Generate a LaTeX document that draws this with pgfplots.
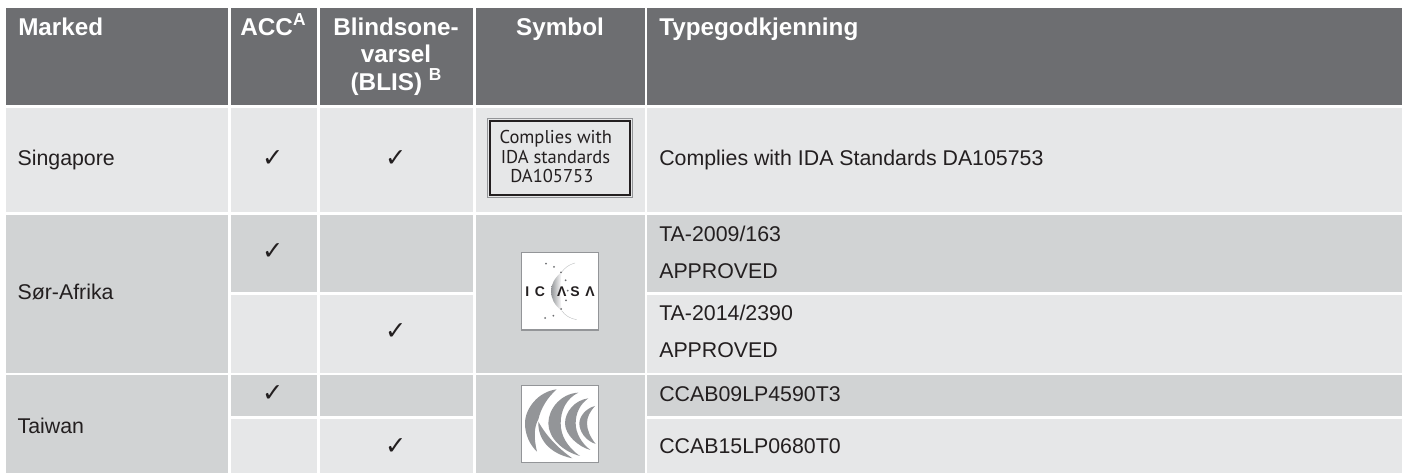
\documentclass[border=0pt]{standalone}
\usepackage{pgfplots}
\pgfplotsset{compat=1.18}
\usepackage{fontspec}
\setmainfont{Liberation Sans}
\newfontfamily\djv{DejaVu Sans}
\newfontfamily\logofont{PT Sans}
\definecolor{hd}{HTML}{6D6E71}
\definecolor{lt}{HTML}{E6E7E8}
\definecolor{md}{HTML}{D1D3D4}
\definecolor{tx}{HTML}{231F20}
\definecolor{lg}{HTML}{939598}
\newcommand{\cell}[5]{\addplot[fill=#5,draw=none,forget plot] coordinates {(#1,#3)(#2,#3)(#2,#4)(#1,#4)} --cycle;}
\newcommand{\hdc}[3]{\node[anchor=base,text=white,font=\fontsize{18.2}{20}\selectfont\bfseries,inner sep=0pt] at (#1,#2) {#3};}
\newcommand{\hdl}[3]{\node[anchor=base west,text=white,font=\fontsize{18.2}{20}\selectfont\bfseries,inner sep=0pt] at (#1,#2) {#3};}
\newcommand{\txt}[3]{\node[anchor=base west,text=tx,font=\fontsize{16}{18}\selectfont,inner sep=0pt] at (#1,#2) {#3};}
\newcommand{\chk}[2]{\node[text=tx,font=\djv\fontsize{19}{20}\selectfont,inner sep=0pt] at (#1,#2) {✓};}
\newcommand{\sptxt}[1]{\raisebox{0.42em}{\fontsize{13}{14}\selectfont #1}}
\begin{document}
\begin{tikzpicture}
\begin{axis}[scale only axis,width=1051.5pt,height=354.75pt,xmin=0,xmax=1402,ymin=0,ymax=473,y dir=reverse,hide axis,clip=false]
\cell{0}{1402}{0}{473}{white}
% header
\cell{6}{228.3}{7.8}{105.3}{hd}
\cell{230.7}{317}{7.8}{105.3}{hd}
\cell{319.7}{473}{7.8}{105.3}{hd}
\cell{475.7}{644.7}{7.8}{105.3}{hd}
\cell{647}{1402}{7.8}{105.3}{hd}
% Singapore
\cell{6}{228.3}{107.7}{212}{lt}
\cell{230.7}{317}{107.7}{212}{lt}
\cell{319.7}{473}{107.7}{212}{lt}
\cell{475.7}{644.7}{107.7}{212}{lt}
\cell{647}{1402}{107.7}{212}{lt}
% Sor-Afrika
\cell{6}{228.3}{214.7}{372.7}{md}
\cell{230.7}{317}{214.7}{292.3}{md}
\cell{319.7}{473}{214.7}{292.3}{md}
\cell{475.7}{644.7}{214.7}{372.7}{md}
\cell{647}{1402}{214.7}{292.3}{md}
\cell{230.7}{317}{294.7}{372.7}{lt}
\cell{319.7}{473}{294.7}{372.7}{lt}
\cell{647}{1402}{294.7}{372.7}{lt}
% Taiwan
\cell{6}{228.3}{375.2}{473}{md}
\cell{230.7}{317}{375.2}{416.3}{md}
\cell{319.7}{473}{375.2}{416.3}{md}
\cell{475.7}{644.7}{375.2}{473}{md}
\cell{647}{1402}{375.2}{416.3}{md}
\cell{230.7}{317}{418.7}{473}{lt}
\cell{319.7}{473}{418.7}{473}{lt}
\cell{647}{1402}{418.7}{473}{lt}
% logo boxes
\addplot[fill=white,draw=lg,line width=0.8pt,forget plot] coordinates {(521.5,252.5)(598.5,252.5)(598.5,330)(521.5,330)} --cycle;
\addplot[fill=white,draw=lg,line width=0.8pt,forget plot] coordinates {(521.5,385.3)(598.5,385.3)(598.5,462.7)(521.5,462.7)} --cycle;
\addplot[fill=none,draw=lg,line width=0.7pt,forget plot] coordinates {(487,118.5)(632.7,118.5)(632.7,197.7)(487,197.7)} --cycle;
\addplot[fill=none,draw=tx,line width=1.5pt,forget plot] coordinates {(490,121.3)(630.2,121.3)(630.2,195)(490,195)} --cycle;
% header text
\hdl{18}{36}{Marked}
\hdc{273}{36}{ACC\sptxt{A}}
\hdc{396}{35.7}{Blindsone-}
\hdc{396}{62.3}{varsel}
\hdc{396}{90.7}{(BLIS) \sptxt{B}}
\hdc{560}{36}{Symbol}
\hdl{659}{36}{Typegodkjenning}
% body
\txt{17.3}{165.7}{Singapore}
\txt{17.3}{300}{Sør-Afrika}
\txt{17.3}{433.3}{Taiwan}
\txt{659}{165.7}{Complies with IDA Standards DA105753}
\txt{659}{241.3}{TA-2009/163}
\txt{659}{278.3}{APPROVED}
\txt{659}{320.7}{TA-2014/2390}
\txt{659}{357.5}{APPROVED}
\txt{659}{401.7}{CCAB09LP4590T3}
\txt{659}{454}{CCAB15LP0680T0}
\chk{272.7}{158.7}\chk{395.7}{158.7}
\chk{272.7}{251.7}\chk{395.7}{331.7}
\chk{272.7}{394}\chk{395.7}{446.7}
\node[anchor=base west,text=tx,font=\logofont\fontsize{13.9}{16}\selectfont,inner sep=0pt] at (499.3,143.5) {Complies with};
\node[anchor=base west,text=tx,font=\logofont\fontsize{13.9}{16}\selectfont,inner sep=0pt] at (500.5,164) {IDA standards};
\node[anchor=base west,text=tx,font=\logofont\fontsize{13.9}{16}\selectfont,inner sep=0pt] at (510,182.7) {DA105753};
\end{axis}
% NCC logo, in zoom units (1 unit = 1/3 px)
\begin{scope}[shift={(386.25pt,69.75pt)},x=0.25pt,y=-0.25pt]
\fill[lg] (125,28) .. controls (70,35) and (30,85) .. (30,130) .. controls (30,165) and (45,195) .. (66,215) .. controls (55,170) and (58,140) .. (70,118) .. controls (78,85) and (95,55) .. (125,28) -- cycle;
\fill[lg] (70,125) .. controls (68,175) and (100,220) .. (172,235) .. controls (130,205) and (95,170) .. (70,125) -- cycle;
\fill[lg] (190,38) .. controls (140,40) and (100,85) .. (100,130) .. controls (100,175) and (145,215) .. (195,228) .. controls (155,200) and (137,165) .. (137,130) .. controls (137,90) and (155,55) .. (190,38) -- cycle;
\fill[lg] (220,55) .. controls (180,60) and (150,95) .. (150,130) .. controls (150,165) and (190,200) .. (226,210) .. controls (200,190) and (182,160) .. (182,130) .. controls (182,100) and (195,72) .. (220,55) -- cycle;
\fill[lg] (240,78) .. controls (212,85) and (193,110) .. (193,130) .. controls (193,155) and (212,182) .. (242,192) .. controls (225,170) and (216,150) .. (216,130) .. controls (216,110) and (225,95) .. (240,78) -- cycle;
\end{scope}
% ICASA logo
\begin{scope}[shift={(386.25pt,168.75pt)},x=0.25pt,y=-0.25pt]
\shade[left color=lg,right color=white] (140,72) .. controls (118,90) and (108,110) .. (108,130) .. controls (108,150) and (118,172) .. (140,188) .. controls (138,165) and (136,150) .. (136,130) .. controls (136,110) and (138,90) .. (140,72) -- cycle;
\draw[lg!60,line width=0.3pt] (180,45) .. controls (160,50) and (150,60) .. (140,72);
\draw[lg!60,line width=0.3pt] (140,188) .. controls (150,202) and (165,212) .. (185,215);
\foreach \p in {(93,47),(117,57),(138,73),(152,97),(158,128),(153,157),(138,183),(115,203),(90,210)} \fill[hd] \p circle (3);
\foreach \xx/\ll in {37/I,75/C,140/Λ,180/S,225/Λ} \node[text=tx,font=\fontsize{10.5}{11}\selectfont\bfseries,inner sep=0pt] at (\xx,130) {\ll};
\end{scope}
\end{tikzpicture}
\end{document}
